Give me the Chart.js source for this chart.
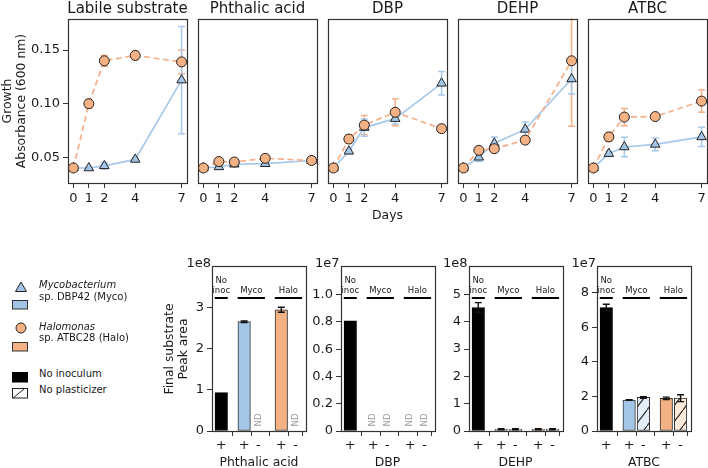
<!DOCTYPE html>
<html><head><meta charset="utf-8">
<script src="https://cdn.jsdelivr.net/npm/chart.js@4/dist/chart.umd.min.js"></script>
<style>
body{margin:0;background:#fff;}
#wrap{position:relative;width:708px;height:468px;overflow:hidden;background:#fff;font-family:"DejaVu Sans",sans-serif;color:#1a1a1a;}
canvas{position:absolute;}
.t{position:absolute;white-space:nowrap;line-height:1;}
</style></head><body><div id="wrap"></div>
<script>
// ---------- DATA ----------
const days = [0, 1, 2, 4, 7];
const substrates = ["Labile substrate", "Phthalic acid", "DBP", "DEHP", "ATBC"];
const growthTicks = [0.05, 0.10, 0.15];
const growthTickLabels = ["0.05", "0.10", "0.15"];

const mycoLabile   = [0.040, 0.040, 0.042, 0.048, 0.122];
const mycoLabileErr= [0.001, 0.001, 0.003, 0.001, 0.050];
const mycoPhthalic = [0.040, 0.041, 0.0435, 0.044, 0.047];
const mycoPhthalicErr=[0.000, 0.001, 0.001, 0.001, 0.003];
const mycoDBP      = [0.040, 0.0556, 0.0777, 0.086, 0.119];
const mycoDBPErr   = [0.000, 0.002, 0.008, 0.005, 0.011];
const mycoDEHP     = [0.040, 0.050, 0.063, 0.076, 0.123];
const mycoDEHPErr  = [0.000, 0.004, 0.006, 0.007, 0.014];
const mycoATBC     = [0.040, 0.0534, 0.0596, 0.062, 0.069];
const mycoATBCErr  = [0.000, 0.002, 0.009, 0.006, 0.009];

const haloLabile   = [0.040, 0.100, 0.140, 0.145, 0.139];
const haloLabileErr= [0.001, 0.004, 0.005, 0.004, 0.011];
const haloPhthalic = [0.040, 0.046, 0.0456, 0.049, 0.047];
const haloPhthalicErr=[0.000, 0.001, 0.001, 0.001, 0.001];
const haloDBP      = [0.040, 0.067, 0.080, 0.092, 0.0767];
const haloDBPErr   = [0.001, 0.004, 0.009, 0.0125, 0.001];
const haloDEHP     = [0.040, 0.0565, 0.058, 0.066, 0.140];
const haloDEHPErr  = [0.000, 0.002, 0.002, 0.002, 0.061];
const haloATBC     = [0.040, 0.069, 0.0875, 0.088, 0.1024];
const haloATBCErr  = [0.000, 0.004, 0.008, 0.002, 0.0105];

const plasticizers = ["Phthalic acid", "DBP", "DEHP", "ATBC"];
const barPositions = [0, 1.6, 2.6, 4.2, 5.2];
const barTickLabels = ["+", "+", "-", "+", "-"];
const barGroups = ["No\ninoc", "Myco", "Halo"];
const phthalicArea = [0.93, 2.65, null, 2.94, null];
const phthalicAreaErr = [0, 0.02, 0, 0.06, 0];
const dbpArea = [0.808, null, null, null, null];
const dbpAreaErr = [0, 0, 0, 0, 0];
const dehpArea = [4.52, 0.06, 0.06, 0.06, 0.06];
const dehpAreaErr = [0.18, 0.02, 0.02, 0.02, 0.02];
const atbcArea = [7.13, 1.79, 1.94, 1.89, 1.90];
const atbcAreaErr = [0.2, 0.02, 0.05, 0.07, 0.2];
const areaExponents = ["1e8", "1e7", "1e8", "1e7"];
const areaTicks1 = [0, 1, 2, 3];
const areaTicks2 = [0, 0.2, 0.4, 0.6, 0.8, 1.0];
const areaTickLabels2 = ["0", "0.2", "0.4", "0.6", "0.8", "1.0"];
const areaTicks3 = [0, 1, 2, 3, 4, 5];
const areaTicks4 = [0, 2, 4, 6, 8];

// ---------- STYLE ----------
const BLUE = '#a3c5e6', ORANGE = '#f4b183', DARK = '#222', SPINE = '#333';
const BLUE_LINE = '#a6c8ea', ORANGE_LINE = '#f5b08a';
const FONT = 'DejaVu Sans';
const wrap = document.getElementById('wrap');

function hatch(bg){
  const c=document.createElement('canvas'); c.width=12; c.height=16;
  const g=c.getContext('2d'); g.fillStyle=bg; g.fillRect(0,0,12,16);
  g.strokeStyle='#222'; g.lineWidth=1.1; g.beginPath();
  g.moveTo(0,16); g.lineTo(12,0); g.stroke();
  return g.createPattern(c,'repeat');
}
const barFills = ['#000', BLUE, hatch('#e4eef8'), ORANGE, hatch('#fce9da')];
const barBorders = ['#000', '#333', '#333', '#333', '#333'];

function text(str, x, y, size, opts={}){
  const d=document.createElement('div'); d.className='t'; d.textContent=str;
  d.style.fontSize=size+'px'; d.style.left=x+'px'; d.style.top=y+'px';
  let tr = opts.align==='right' ? 'translate(-100%,-50%)' : opts.align==='left' ? 'translate(0,-50%)' : 'translate(-50%,-50%)';
  if(opts.rot) tr += ' rotate(-90deg)';
  d.style.transform=tr;
  if(opts.italic) d.style.fontStyle='italic';
  wrap.appendChild(d); return d;
}

const framePlugin={id:'frame',afterDraw(chart){const {ctx,chartArea:a}=chart;ctx.save();ctx.strokeStyle=SPINE;ctx.lineWidth=1.2;ctx.strokeRect(Math.round(a.left)+0.5,Math.round(a.top)+0.5,Math.round(a.right-a.left),Math.round(a.bottom-a.top));ctx.restore();}};

function drawErr(chart, onTop){
  const {ctx,chartArea:a}=chart; const xs=chart.scales.x, ys=chart.scales.y;
  ctx.save(); ctx.beginPath(); ctx.rect(a.left,a.top-1,a.right-a.left,a.bottom-a.top+1); ctx.clip();
  chart.data.datasets.forEach(ds=>{
    if(!ds.errors || !!ds.errOnTop!==onTop) return;
    ctx.strokeStyle=ds.errColor; ctx.lineWidth=ds.errWidth||1.5; const cap=ds.cap||3.5;
    ds.data.forEach((p,i)=>{const e=ds.errors[i]; if(p.y==null||!e) return;
      const x=xs.getPixelForValue(p.x), y1=ys.getPixelForValue(p.y-e), y2=ys.getPixelForValue(p.y+e);
      ctx.beginPath(); ctx.moveTo(x,y1); ctx.lineTo(x,y2);
      ctx.moveTo(x-cap,y1); ctx.lineTo(x+cap,y1); ctx.moveTo(x-cap,y2); ctx.lineTo(x+cap,y2); ctx.stroke();});
  });
  ctx.restore();
}
const errPlugin={id:'err',beforeDatasetsDraw(c){drawErr(c,false);},afterDatasetsDraw(c){drawErr(c,true);}};

function axisCommon(){
  return {grid:{display:true,drawOnChartArea:false,drawTicks:true,tickLength:5,color:SPINE,lineWidth:1},
          border:{display:true,color:SPINE,width:1}};
}

// ---------- TOP: growth curves ----------
const mycoSets=[mycoLabile,mycoPhthalic,mycoDBP,mycoDEHP,mycoATBC];
const mycoErrs=[mycoLabileErr,mycoPhthalicErr,mycoDBPErr,mycoDEHPErr,mycoATBCErr];
const haloSets=[haloLabile,haloPhthalic,haloDBP,haloDEHP,haloATBC];
const haloErrs=[haloLabileErr,haloPhthalicErr,haloDBPErr,haloDEHPErr,haloATBCErr];
const topLefts=[68,198,328,458,588], topW=119, topTop=19, topBottom=183;

topLefts.forEach((L,i)=>{
  const padL = i===0 ? 68 : 10;
  const cv=document.createElement('canvas');
  const W = padL+topW+8, H=230;
  cv.width=W; cv.height=H; cv.style.left=(L-padL)+'px'; cv.style.top='0px';
  wrap.appendChild(cv);
  const xA=axisCommon(), yA=axisCommon();
  new Chart(cv,{type:'line',
    data:{datasets:[
      {label:'Halo',data:days.map((d,k)=>({x:d,y:haloSets[i][k]})),errors:haloErrs[i],errColor:ORANGE_LINE,
       borderColor:ORANGE_LINE,borderDash:[6,3.5],borderWidth:1.7,pointStyle:'circle',pointRadius:5,
       pointBackgroundColor:ORANGE,pointBorderColor:DARK,pointBorderWidth:1,order:0,tension:0},
      {label:'Myco',data:days.map((d,k)=>({x:d,y:mycoSets[i][k]})),errors:mycoErrs[i],errColor:BLUE_LINE,
       borderColor:BLUE_LINE,borderWidth:1.7,pointStyle:'triangle',pointRadius:5.5,
       pointBackgroundColor:BLUE,pointBorderColor:DARK,pointBorderWidth:1,order:1,tension:0}
    ]},
    options:{responsive:false,animation:false,events:[],
      layout:{padding:{left:0,top:topTop,right:8,bottom:0}},
      plugins:{legend:{display:false},tooltip:{enabled:false}},
      scales:{
        x:Object.assign(xA,{type:'linear',min:-0.35,max:7.35,
          afterBuildTicks:s=>{s.ticks=days.map(v=>({value:v}));},
          ticks:{autoSkip:false,maxRotation:0,padding:3,color:'#1a1a1a',font:{family:FONT,size:13},callback:v=>String(v)},
          afterFit:s=>{s.height=H-topBottom; s.paddingLeft=0; s.paddingRight=0;}}),
        y:Object.assign(yA,{type:'linear',min:0.026,max:0.179,
          afterBuildTicks:s=>{s.ticks=growthTicks.map(v=>({value:v}));},
          ticks:{display:i===0,padding:3,color:'#1a1a1a',font:{family:FONT,size:13},callback:(v,k)=>growthTickLabels[k]},
          grid:Object.assign(yA.grid,{display:i===0}),
          afterFit:s=>{s.width=padL; s.paddingTop=0; s.paddingBottom=0;}})
      }},
    plugins:[errPlugin,framePlugin]});
  text(substrates[i], L+topW/2, 8, 15);
});
text("Days", 387.5, 215, 12.4);
text("Growth", 7, 101, 12.4, {rot:true});
text("Absorbance (600 nm)", 21, 101, 12.4, {rot:true});

// ---------- BOTTOM: final substrate ----------
const areaSets=[phthalicArea,dbpArea,dehpArea,atbcArea];
const areaErrs=[phthalicAreaErr,dbpAreaErr,dehpAreaErr,atbcAreaErr];
const areaMax=[4.0,1.21,6.04,9.54];
const areaTicks=[areaTicks1,areaTicks2,areaTicks3,areaTicks4];
const areaTickLabels=[areaTicks1.map(String),areaTickLabels2,areaTicks3.map(String),areaTicks4.map(String)];
const botLefts=[212,340.5,468.5,597], botW=94, botTop=266, botBottom=431, botCanvasTop=250;

const groupPlugin={id:'groups',afterDraw(chart){
  const {ctx,chartArea:a}=chart; const xs=chart.scales.x;
  const ly=Math.round(a.bottom-0.808*(a.bottom-a.top));
  const spans=[[barPositions[0],barPositions[0]],[barPositions[1],barPositions[2]],[barPositions[3],barPositions[4]]];
  ctx.save(); ctx.strokeStyle='#000'; ctx.lineWidth=2; ctx.fillStyle='#1a1a1a';
  ctx.font='8.5px "DejaVu Sans"'; ctx.textAlign='center'; ctx.textBaseline='middle';
  spans.forEach((sp,g)=>{
    const x1=xs.getPixelForValue(sp[0])-6.5, x2=xs.getPixelForValue(sp[1])+6.5;
    ctx.beginPath(); ctx.moveTo(x1,ly); ctx.lineTo(x2,ly); ctx.stroke();
    const lines=barGroups[g].split('\n'); const cx=(x1+x2)/2;
    lines.forEach((t,k)=>{ctx.fillText(t,cx,ly-7-(lines.length-1-k)*10.5);});
  });
  // ND markers
  const ds=chart.data.datasets[0];
  ctx.fillStyle='#9a9a9a'; ctx.font='8.5px "DejaVu Sans"';
  ds.data.forEach(p=>{ if(p.y!==null) return; const x=xs.getPixelForValue(p.x);
    ctx.save(); ctx.translate(x,a.bottom-11); ctx.rotate(-Math.PI/2); ctx.fillText('ND',0,0); ctx.restore();});
  ctx.restore();
}};

botLefts.forEach((L,i)=>{
  const padL=46, W=padL+botW+8, H=468-botCanvasTop;
  const cv=document.createElement('canvas'); cv.width=W; cv.height=H;
  cv.style.left=(L-padL)+'px'; cv.style.top=botCanvasTop+'px'; wrap.appendChild(cv);
  const xA=axisCommon(), yA=axisCommon();
  new Chart(cv,{type:'bar',
    data:{datasets:[{data:barPositions.map((x,k)=>({x:x,y:areaSets[i][k]})),
      backgroundColor:barFills,borderColor:barBorders,borderWidth:1,borderSkipped:false,barThickness:12.5,
      errors:areaErrs[i],errColor:'#111',errWidth:1.4,cap:3.5,errOnTop:true}]},
    options:{responsive:false,animation:false,events:[],
      layout:{padding:{left:0,top:botTop-botCanvasTop,right:8,bottom:0}},
      plugins:{legend:{display:false},tooltip:{enabled:false}},
      scales:{
        x:Object.assign(xA,{type:'linear',min:-0.65,max:5.93,offset:false,
          afterBuildTicks:s=>{s.ticks=barPositions.map(v=>({value:v}));},
          ticks:{autoSkip:false,maxRotation:0,padding:2,color:'#1a1a1a',font:{family:FONT,size:13},callback:(v,k)=>barTickLabels[k]},
          afterFit:s=>{s.height=H-(botBottom-botCanvasTop); s.paddingLeft=0; s.paddingRight=0;}}),
        y:Object.assign(yA,{type:'linear',min:0,max:areaMax[i],
          afterBuildTicks:s=>{s.ticks=areaTicks[i].map(v=>({value:v}));},
          ticks:{padding:3,color:'#1a1a1a',font:{family:FONT,size:13},callback:(v,k)=>areaTickLabels[i][k]},
          afterFit:s=>{s.width=padL; s.paddingTop=0; s.paddingBottom=0;}})
      }},
    plugins:[errPlugin,framePlugin,groupPlugin]});
  text(areaExponents[i], L-1, 262, 13, {align:'right'});
  text(plasticizers[i], L+botW/2, 461.5, 12.4);
});
text("Final substrate", 168.5, 349, 12.4, {rot:true});
text("Peak area", 183, 349, 12.4, {rot:true});

// ---------- LEGEND ----------
function svg(html,x,y,w,h){const d=document.createElement('div');d.style.position='absolute';d.style.left=x+'px';d.style.top=y+'px';
  d.innerHTML='<svg width="'+w+'" height="'+h+'" xmlns="http://www.w3.org/2000/svg">'+html+'</svg>';wrap.appendChild(d);}
svg('<polygon points="6,1 11.5,10.5 0.5,10.5" fill="'+BLUE+'" stroke="#222" stroke-width="1"/>',14.5,278,12,12);
svg('<rect x="0.5" y="0.5" width="15" height="8.5" fill="'+BLUE+'" stroke="#333" stroke-width="1"/>',12,294.5,17,10);
svg('<circle cx="6" cy="6" r="5" fill="'+ORANGE+'" stroke="#222" stroke-width="1"/>',14.5,319,12,12);
svg('<rect x="0.5" y="0.5" width="15" height="8.5" fill="'+ORANGE+'" stroke="#333" stroke-width="1"/>',12,337,17,10);
svg('<rect x="0.5" y="0.5" width="15" height="9.5" fill="#000" stroke="#000" stroke-width="1"/>',12,368,17,11);
svg('<rect x="0.5" y="0.5" width="15" height="9.5" fill="#fff" stroke="#222" stroke-width="1"/><line x1="1" y1="10" x2="12" y2="1" stroke="#222" stroke-width="1"/>',12,384,17,11);
text("Mycobacterium", 39, 285, 10, {align:'left',italic:true});
text("sp. DBP42 (Myco)", 39, 296.5, 10, {align:'left'});
text("Halomonas", 39, 326.5, 10, {align:'left',italic:true});
text("sp. ATBC28 (Halo)", 39, 338, 10, {align:'left'});
text("No inoculum", 39, 373.5, 10, {align:'left'});
text("No plasticizer", 39, 389.5, 10, {align:'left'});
</script></body></html>
